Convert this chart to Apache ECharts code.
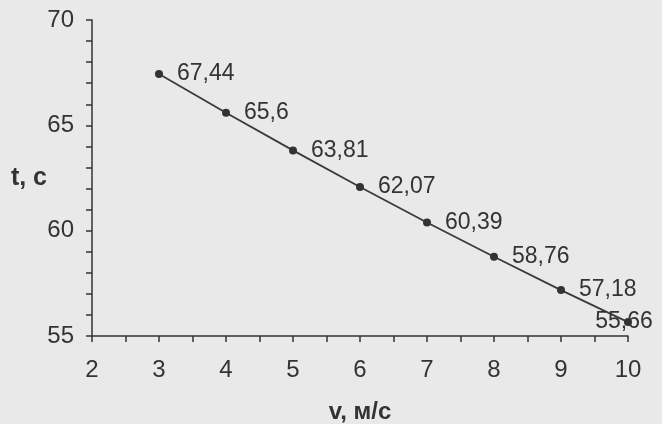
<!DOCTYPE html>
<html>
<head>
<meta charset="utf-8">
<script src="https://cdn.jsdelivr.net/npm/echarts@6/dist/echarts.min.js"></script>
<style>
html,body{margin:0;padding:0;background:#e9e9e9;}
#c{width:662px;height:424px;}
</style>
</head>
<body>
<div id="c"></div>
<script>
var speeds = [3, 4, 5, 6, 7, 8, 9, 10];
var times = [67.44, 65.6, 63.81, 62.07, 60.39, 58.76, 57.18, 55.66];
var xTitle = 'v, м/с';
var yTitle = 't, c';

var ink = '#333333';
var font = '"Liberation Sans", Arial, sans-serif';
var last = speeds.length - 1;

var data = speeds.map(function (v, i) {
  var item = { value: [v, times[i]] };
  if (i === last) {
    item.label = { position: 'inside', offset: [-4, 0] };
  }
  return item;
});

var chart = echarts.init(document.getElementById('c'));
chart.setOption({
  backgroundColor: '#e9e9e9',
  animation: false,
  grid: { left: 92, right: 34, top: 20, bottom: 88, outerBoundsMode: 'none', containLabel: false },
  xAxis: {
    type: 'value', min: 2, max: 10, interval: 1,
    name: xTitle, nameLocation: 'middle', nameGap: 64, nameMoveOverlap: false,
    nameTextStyle: { color: ink, fontSize: 24, fontWeight: 'bold', fontFamily: font },
    axisLine: { lineStyle: { color: ink, width: 1.5 } },
    axisTick: { show: true, length: 6, lineStyle: { color: ink, width: 1.5 } },
    minorTick: { show: true, splitNumber: 2, length: 6, lineStyle: { color: ink, width: 1.5 } },
    axisLabel: { color: ink, fontSize: 24, fontFamily: font, margin: 22 },
    splitLine: { show: false }
  },
  yAxis: {
    type: 'value', min: 55, max: 70, interval: 5,
    name: yTitle, nameLocation: 'middle', nameGap: 45, nameRotate: 0, nameMoveOverlap: false,
    nameTextStyle: { color: ink, fontSize: 25, fontWeight: 'bold', fontFamily: font, padding: [0, 0, 28, 0] },
    axisLine: { show: true, lineStyle: { color: ink, width: 1.5 } },
    axisTick: { show: true, length: 6, lineStyle: { color: ink, width: 1.5 } },
    minorTick: { show: true, splitNumber: 5, length: 6, lineStyle: { color: ink, width: 1.5 } },
    axisLabel: { color: ink, fontSize: 24, fontFamily: font, margin: 18, padding: [0, 0, 6, 0] },
    splitLine: { show: false }
  },
  series: [{
    type: 'line',
    data: data,
    symbol: 'circle',
    symbolSize: 8,
    lineStyle: { color: '#3a3a3a', width: 1.8 },
    itemStyle: { color: '#333333' },
    label: {
      show: true,
      position: 'right',
      distance: 14,
      color: ink,
      fontSize: 23,
      fontFamily: font,
      formatter: function (p) { return String(p.value[1]).replace('.', ','); }
    }
  }]
});
</script>
</body>
</html>
